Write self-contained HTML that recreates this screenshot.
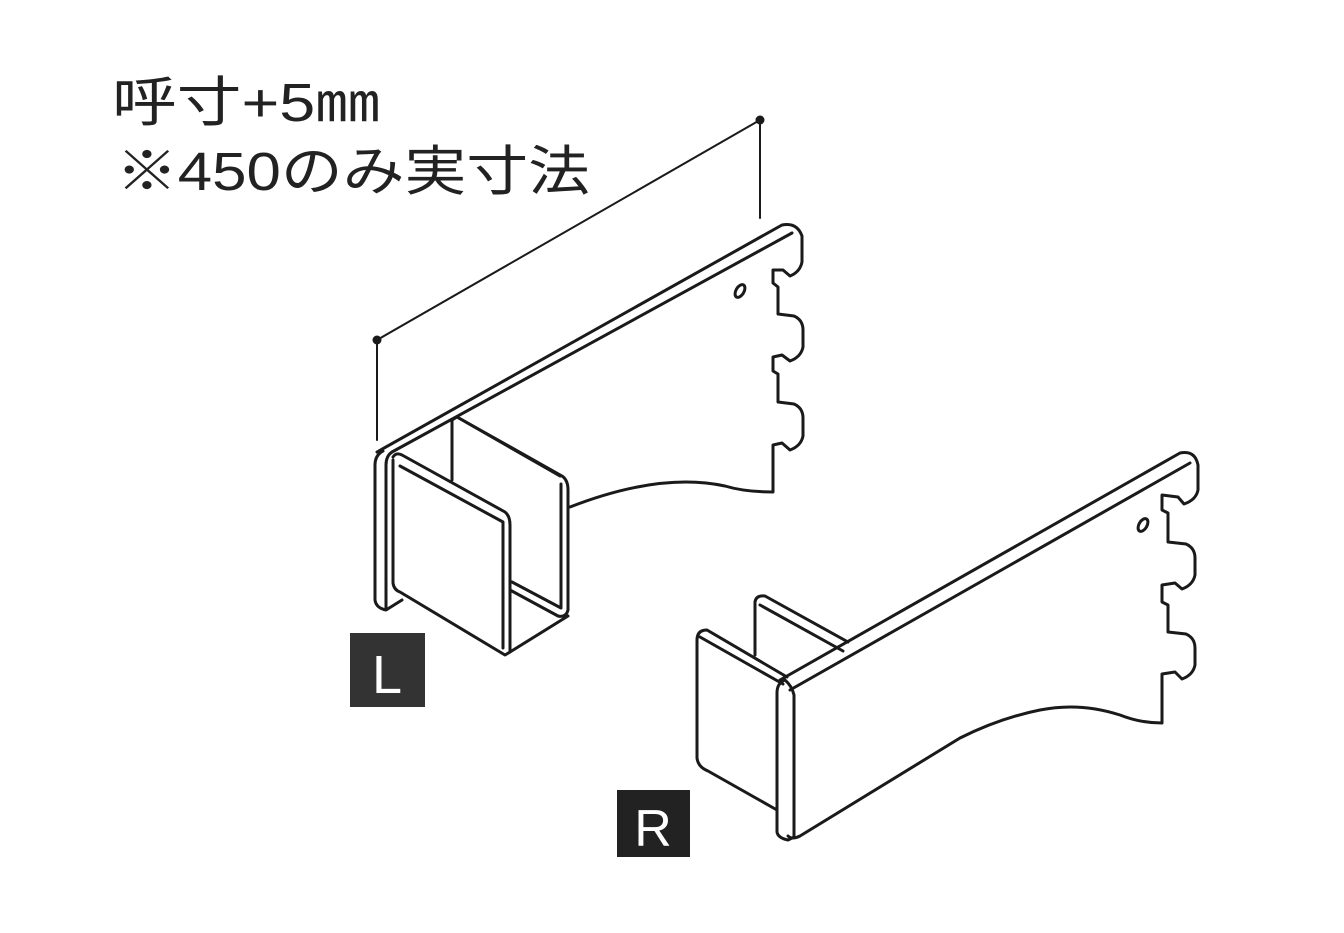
<!DOCTYPE html>
<html><head><meta charset="utf-8"><style>
html,body{margin:0;padding:0;background:#fff;}
svg{display:block}
</style></head><body>
<svg width="1344" height="933" viewBox="0 0 1344 933" xmlns="http://www.w3.org/2000/svg">
<rect width="1344" height="933" fill="#fff"/>
<g font-family="'Liberation Sans','Noto Sans CJK JP',sans-serif" fill="#222" font-size="54">
<text x="112" y="121" textLength="268" lengthAdjust="spacingAndGlyphs">呼寸+5㎜</text>
<text x="116" y="190" textLength="474" lengthAdjust="spacingAndGlyphs">※450のみ実寸法</text>
</g>
<g fill="none" stroke="#1a1a1a" stroke-width="3" stroke-linejoin="round" stroke-linecap="round">
<!-- dimension -->
<line x1="377" y1="340" x2="760" y2="120" stroke-width="2"/>
<line x1="377" y1="340" x2="377" y2="440" stroke-width="2"/>
<line x1="760" y1="120" x2="760" y2="218" stroke-width="2"/>
<!-- L bracket plate -->
<path d="M377,452 L782,225 Q797,222 802,236 L802,262 Q800,272 790,276 L783,270 L773,270 L773,283 L778,287 L778,314 L794,316 Q803,320 803,330 L803,347 Q801,357 790,361 L782,355 L773,357 L773,371 L778,374 L778,402 L794,404 Q803,408 803,418 L803,436 Q801,446 790,450 L782,443 L773,445 L773,492 Q745,492 725,486 Q660,472 570,507"/>
<path d="M392,452 L792,233"/>
<path d="M452,420 L457,417 L560,476"/>
<line x1="452" y1="420" x2="452" y2="480"/>
<!-- left thin end plate -->
<path d="M383,451 Q375,455 375,465 L375,600 Q376,608 386,610 L402,600"/>
<path d="M392,452 Q386,456 386,465 L386,608"/>
<!-- box front frame -->
<path d="M393,457 Q396,452 402,455 L505,512 Q510,516 510,525 L510,652"/>
<path d="M400,466 L503,522 L503,648"/>
<path d="M393,460 L393,583 Q394,590 400,592 L505,655 L510,652 L568,616"/>
<!-- box back -->
<path d="M457,417 L562,476 Q568,480 568,490 L568,610 Q566,618 558,616 L510,590"/>
<path d="M561,484 L561,608 L512,582"/>
<!-- R bracket plate -->
<path d="M780,680 L1180,453 Q1195,450 1198,465 L1198,490 Q1196,500 1184,504 L1178,497 L1162,495 L1162,510 L1168,513 L1168,542 L1186,544 Q1195,548 1195,558 L1195,575 Q1193,585 1182,589 L1175,583 L1162,585 L1162,602 L1168,605 L1168,632 L1186,634 Q1195,638 1195,648 L1195,665 Q1193,675 1182,679 L1175,672 L1162,674 L1162,723 Q1140,723 1120,715 Q1080,702 1040,710 Q1000,718 960,738 L800,836 Q792,840 788,836"/>
<path d="M790,690 L1190,463"/>
<!-- R front plate -->
<path d="M785,680 Q777,683 777,693 L777,832 Q778,838 788,840 L794,837 L794,695 Q792,686 785,680"/>
<!-- R back plate -->
<path d="M697,640 Q697,630 707,630 L787,677"/>
<path d="M700,637 L783,684"/>
<path d="M697,640 L697,758 Q698,767 708,771 L777,810"/>
<!-- R middle plate -->
<path d="M755,602 Q756,595 765,596 L848,642"/>
<path d="M760,605 L843,651"/>
<line x1="755" y1="602" x2="755" y2="655"/>
<!-- holes -->
<ellipse cx="740" cy="291" rx="4" ry="7" transform="rotate(30 740 291)"/>
<ellipse cx="1143" cy="525" rx="4" ry="7" transform="rotate(30 1143 525)"/>
</g>
<circle cx="377" cy="340" r="4.5" fill="#1a1a1a"/>
<circle cx="760" cy="120" r="4.5" fill="#1a1a1a"/>
<rect x="350" y="633" width="75" height="74" fill="#333"/>
<text x="387" y="693" font-family="'Liberation Sans',sans-serif" font-size="54" fill="#fff" text-anchor="middle">L</text>
<rect x="617" y="790" width="73" height="67" fill="#222"/>
<text x="653" y="846" font-family="'Liberation Sans',sans-serif" font-size="52" fill="#fff" text-anchor="middle">R</text>
</svg>
</body></html>
